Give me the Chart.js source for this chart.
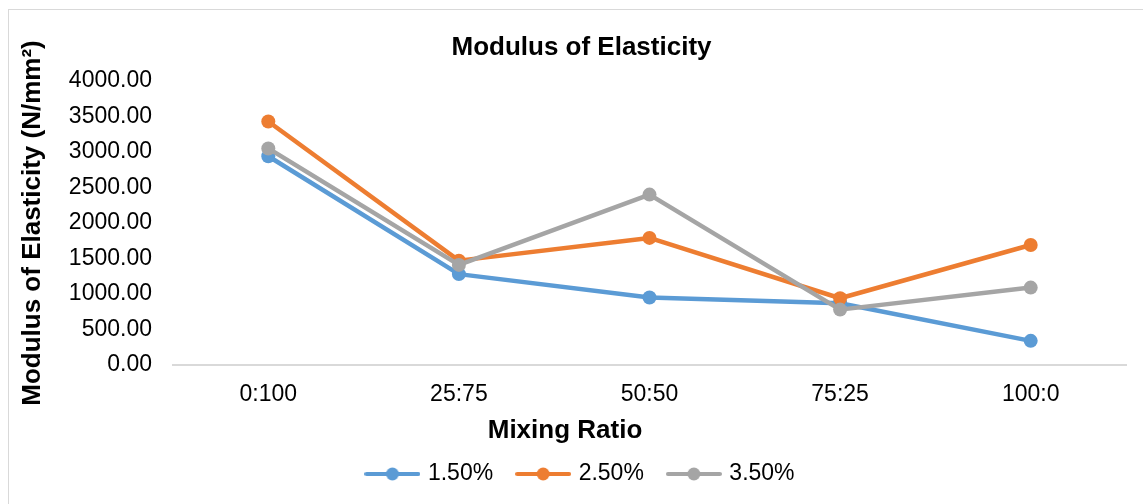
<!DOCTYPE html>
<html>
<head>
<meta charset="utf-8">
<title>Modulus of Elasticity</title>
<script src="https://cdn.jsdelivr.net/npm/chart.js@4.4.1/dist/chart.umd.min.js"></script>
<style>
  html, body { margin: 0; padding: 0; background: #ffffff; overflow: hidden; }
  #frame {
    position: absolute; left: 8px; top: 9px;
    width: 1200px; height: 600px;
    border: 1px solid #d9d9d9;
  }
  #chart { position: absolute; left: 0; top: 0; }
</style>
</head>
<body>
<div id="frame"></div>
<canvas id="chart" width="1143" height="504"></canvas>
<script>
// Mixing ratios on the x axis
const categories = ['0:100', '25:75', '50:50', '75:25', '100:0'];

// Modulus of elasticity (N/mm²) for each fibre content
const seriesNames = ['1.50%', '2.50%', '3.50%'];
const values150 = [2940, 1280, 950, 870, 340];
const values250 = [3430, 1470, 1790, 940, 1690];
const values350 = [3050, 1410, 2400, 780, 1090];

// Value axis ticks
const yTickValues = [0, 500, 1000, 1500, 2000, 2500, 3000, 3500, 4000];

const chartTitle = 'Modulus of Elasticity';
const yTitle = 'Modulus of Elasticity (N/mm²)';
const xTitle = 'Mixing Ratio';

const colors = ['#5B9BD5', '#ED7D31', '#A5A5A5'];
const textColor = '#000000';
const fontFamily = '"Liberation Sans", Arial, Helvetica, sans-serif';

// Legend swatch: a short line with a round marker in the middle
function makeSwatch(color) {
  const c = document.createElement('canvas');
  c.width = 56; c.height = 16;
  const g = c.getContext('2d');
  g.strokeStyle = color;
  g.lineWidth = 4;
  g.lineCap = 'round';
  g.beginPath(); g.moveTo(2, 8); g.lineTo(54, 8); g.stroke();
  g.fillStyle = color;
  g.beginPath(); g.arc(28, 8, 6.5, 0, Math.PI * 2); g.fill();
  return c;
}
const swatches = colors.map(makeSwatch);

function lineSet(label, data, color, order) {
  return {
    label, data, order,
    borderColor: color,
    backgroundColor: color,
    borderWidth: 4.5,
    borderJoinStyle: 'round',
    borderCapStyle: 'round',
    pointRadius: 7,
    pointHoverRadius: 7,
    pointBorderWidth: 0,
    pointBackgroundColor: color,
    tension: 0,
    fill: false
  };
}

// Axis title drawn below the category labels
const xTitlePlugin = {
  id: 'xTitle',
  afterDraw(chart) {
    const ctx = chart.ctx;
    ctx.save();
    ctx.font = 'bold 26px ' + fontFamily;
    ctx.fillStyle = textColor;
    ctx.textAlign = 'center';
    ctx.textBaseline = 'middle';
    ctx.fillText(xTitle, 565, 431);
    ctx.restore();
  }
};

new Chart(document.getElementById('chart'), {
  type: 'line',
  data: {
    labels: categories,
    datasets: [
      lineSet(seriesNames[0], values150, colors[0], 2),
      lineSet(seriesNames[1], values250, colors[1], 1),
      lineSet(seriesNames[2], values350, colors[2], 0)
    ]
  },
  plugins: [xTitlePlugin],
  options: {
    responsive: false,
    animation: false,
    devicePixelRatio: 1,
    layout: { padding: { top: 12, left: 20, right: 0, bottom: 8.5 } },
    plugins: {
      title: {
        display: true,
        text: chartTitle,
        color: textColor,
        font: { family: fontFamily, size: 26, weight: 'bold' },
        padding: { top: 20.4, bottom: 17.4 }
      },
      legend: {
        position: 'bottom',
        labels: {
          usePointStyle: true,
          pointStyleWidth: 48,
          padding: 26,
          color: textColor,
          font: { family: fontFamily, size: 23 },
          generateLabels(chart) {
            return chart.data.datasets.map((ds, i) => ({
              text: ds.label,
              pointStyle: swatches[i],
              fillStyle: colors[i],
              strokeStyle: colors[i],
              lineWidth: 0,
              fontColor: textColor,
              hidden: !chart.isDatasetVisible(i),
              datasetIndex: i
            }));
          }
        }
      },
      tooltip: { enabled: false }
    },
    scales: {
      x: {
        type: 'category',
        offset: true,
        grid: { display: false, drawTicks: false },
        border: { display: true, color: '#d9d9d9', width: 2 },
        ticks: {
          color: textColor,
          padding: 16,
          maxRotation: 0,
          font: { family: fontFamily, size: 23 }
        },
        afterFit(scale) { scale.height = 71.5; }
      },
      y: {
        type: 'linear',
        position: 'left',
        min: 0,
        max: 4000,
        grid: { display: false, drawTicks: false },
        border: { display: false },
        afterBuildTicks(scale) {
          scale.ticks = yTickValues.map(v => ({ value: v }));
        },
        ticks: {
          color: textColor,
          padding: 21,
          font: { family: fontFamily, size: 23 },
          callback: v => Number(v).toFixed(2)
        },
        title: {
          display: true,
          text: yTitle,
          color: textColor,
          padding: { top: 0, bottom: 0 },
          font: { family: fontFamily, size: 26, weight: 'bold', lineHeight: 1 }
        },
        afterFit(scale) { scale.width = 153; }
      },
      yRight: {
        type: 'linear',
        position: 'right',
        display: true,
        grid: { display: false, drawTicks: false },
        border: { display: false },
        ticks: { display: false },
        afterFit(scale) { scale.width = 17; }
      }
    }
  }
});
</script>
</body>
</html>
